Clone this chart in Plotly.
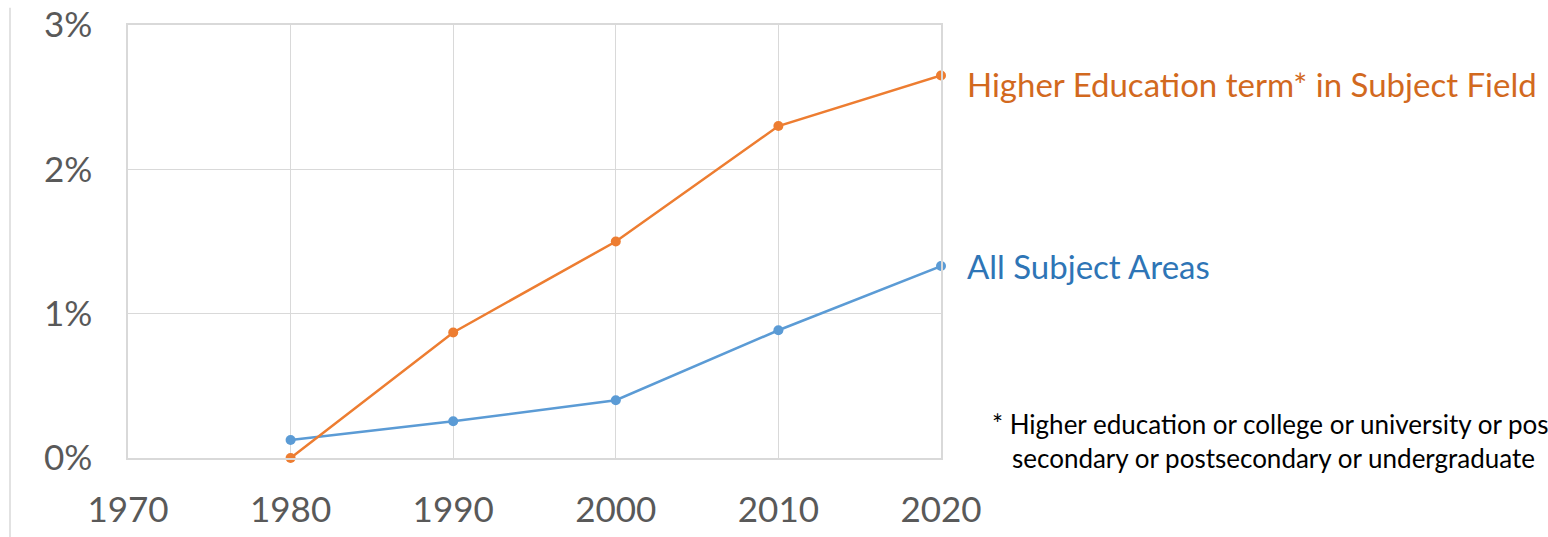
import plotly.graph_objects as go

years = [1980, 1990, 2000, 2010, 2020]
higher_ed = [0.0, 0.0087, 0.0150, 0.0230, 0.0265]
all_subjects = [0.00125, 0.00255, 0.0040, 0.00885, 0.0133]
x_ticks = [1970, 1980, 1990, 2000, 2010, 2020]
y_ticks = [0, 0.01, 0.02, 0.03]

ORANGE = "#ED7D31"
BLUE = "#5B9BD5"
FONT = "Lato, 'Open Sans', sans-serif"

fig = go.Figure()
fig.add_trace(go.Scatter(x=years, y=all_subjects, mode="lines+markers",
                         line=dict(color=BLUE, width=2.5), marker=dict(size=10, color=BLUE),
                         name="All Subject Areas", cliponaxis=False))
fig.add_trace(go.Scatter(x=years, y=higher_ed, mode="lines+markers",
                         line=dict(color=ORANGE, width=2.5), marker=dict(size=10, color=ORANGE),
                         name="Higher Education term* in Subject Field", cliponaxis=False))

fig.update_layout(
    width=1548, height=537,
    margin=dict(l=128, r=607, t=25, b=79),
    paper_bgcolor="white", plot_bgcolor="white",
    showlegend=False,
    font=dict(family=FONT, color="#595959"),
    xaxis=dict(range=[1970, 2020], tickvals=x_ticks, ticktext=[str(v) for v in x_ticks],
               showgrid=True, gridcolor="#D9D9D9", gridwidth=1,
               showline=True, linecolor="#D9D9D9", linewidth=1.5, mirror=True,
               ticks="outside", ticklen=20, tickcolor="rgba(0,0,0,0)",
               tickfont=dict(size=35, color="#595959"), zeroline=False, automargin=False),
    yaxis=dict(range=[0, 0.03], tickvals=y_ticks, tickformat=".0%",
               showgrid=True, gridcolor="#D9D9D9", gridwidth=1,
               showline=True, linecolor="#D9D9D9", linewidth=1.5, mirror=True,
               ticks="outside", ticklen=27, tickcolor="rgba(0,0,0,0)",
               tickfont=dict(size=35, color="#595959"), zeroline=False, automargin=False),
)

fig.add_annotation(x=2020, y=higher_ed[-1], xref="x", yref="y", xanchor="left", yanchor="middle",
                   xshift=24, yshift=-8, showarrow=False,
                   text="Higher Education term* in Subject Field",
                   font=dict(family=FONT, size=33, color="#D2691E"))
fig.add_annotation(x=2020, y=all_subjects[-1], xref="x", yref="y", xanchor="left", yanchor="middle",
                   xshift=24, yshift=0, showarrow=False,
                   text="All Subject Areas",
                   font=dict(family=FONT, size=33, color="#2E75B6"))
fig.add_annotation(x=2020, y=0, xref="x", yref="y", xanchor="left", yanchor="bottom",
                   xshift=49, yshift=-18, showarrow=False, align="left",
                   text="* Higher education or college or university or post<br>   secondary or postsecondary or undergraduate",
                   font=dict(family=FONT, size=26, color="#000000"))

fig.add_shape(type="line", xref="paper", yref="paper",
              x0=-118 / 813, x1=-118 / 813, y0=-0.2, y1=1.04, line=dict(color="#D9D9D9", width=1.5))

fig.write_html("out.html")
